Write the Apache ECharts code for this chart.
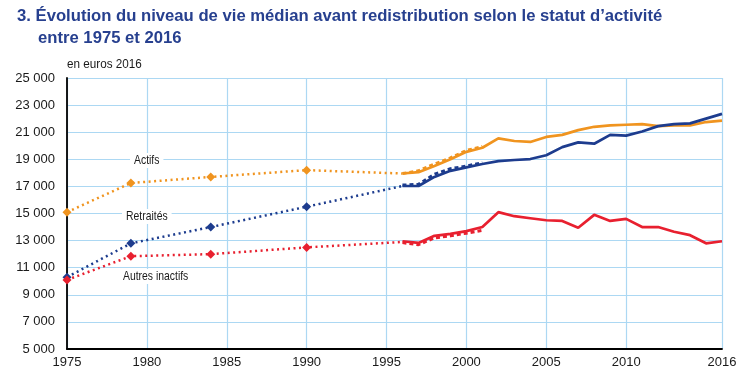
<!DOCTYPE html>
<html>
<head>
<meta charset="utf-8">
<script src="https://cdn.jsdelivr.net/npm/echarts@6/dist/echarts.min.js"></script>
<style>
  html, body { margin: 0; padding: 0; background: #fff; }
  #chart { width: 742px; height: 376px; }
</style>
</head>
<body>
<div id="chart"></div>
<script>
// années des points d'enquête anciens (pointillés)
const oldYears = [1975, 1979, 1984, 1990, 1996]
const actifsOld = [15100, 17250, 17700, 18200, 17950]
const retraitesOld = [10300, 12800, 14000, 15500, 17030]
const inactifsOld = [10100, 11850, 12000, 12500, 12900]

// série rétropolée 1996-2001 (tirets)
const dashYears = [1996, 1997, 1998, 1999, 2000, 2001]
const actifsDash = [17950, 18150, 18650, 19100, 19650, 19950]
const retraitesDash = [17100, 17150, 17900, 18300, 18500, 18750]
const inactifsDash = [12850, 12700, 13200, 13350, 13550, 13750]

// série annuelle 1996-2016 (trait plein)
const years = [1996, 1997, 1998, 1999, 2000, 2001, 2002, 2003, 2004, 2005, 2006,
  2007, 2008, 2009, 2010, 2011, 2012, 2013, 2014, 2015, 2016]
const actifs = [17950, 18050, 18500, 19000, 19550, 19850, 20550, 20350, 20280, 20650, 20800,
  21150, 21400, 21500, 21550, 21600, 21450, 21500, 21500, 21750, 21850]
const retraites = [17030, 17030, 17700, 18150, 18400, 18650, 18870, 18950, 19020, 19300, 19900,
  20250, 20150, 20800, 20750, 21050, 21450, 21600, 21650, 22000, 22350]
const inactifs = [12950, 12830, 13350, 13500, 13700, 14000, 15100, 14800, 14650, 14500, 14450,
  13950, 14900, 14450, 14600, 14000, 14000, 13650, 13400, 12800, 12950]

const xTicks = [1975, 1980, 1985, 1990, 1995, 2000, 2005, 2010, 2016]

const ORANGE = '#f0941f'
const BLUE = '#1d3c8e'
const RED = '#e8202f'
const TITLE = '#27408f'
const FONT = '"Liberation Sans", Arial, sans-serif'

const pair = (xs, ys) => xs.map((x, i) => [x, ys[i]])

const dotted = (data, color) => ({
  type: 'line',
  data: data,
  // pas de losange au raccord de 1996
  symbol: v => (v[0] === 1996 ? 'none' : 'diamond'),
  symbolSize: 9,
  itemStyle: { color: color },
  lineStyle: { color: color, width: 2.5, type: [2, 3.5] },
  z: 3
})
const dashed = (data, color) => ({
  type: 'line',
  data: data,
  symbol: 'none',
  lineStyle: { color: color, width: 3, type: [4, 3] },
  z: 4
})
const solid = (data, color) => ({
  type: 'line',
  data: data,
  symbol: 'none',
  lineStyle: { color: color, width: 2.7 },
  z: 5
})

// texte un peu resserré (la police d'origine est étroite)
const narrowText = (text, x, y, size, opts) => Object.assign({
  type: 'text',
  x: x, y: y, scaleX: opts.scale, z: 10,
  style: Object.assign({
    text: text,
    font: (opts.bold ? 'bold ' : '') + size + 'px ' + FONT,
    fill: opts.color || '#1a1a1a',
    verticalAlign: 'top'
  }, opts.style || {})
})

const chart = echarts.init(document.getElementById('chart'))

const fmt = v => String(v).replace(/\B(?=(\d{3})+(?!\d))/g, ' ')

chart.setOption({
  animation: false,
  grid: { left: 67, right: 20, top: 78, bottom: 27 },
  xAxis: {
    type: 'value',
    min: 1975,
    max: 2016,
    axisLine: { show: true, lineStyle: { color: '#000', width: 1.8 } },
    axisTick: { show: false, customValues: xTicks },
    axisLabel: {
      customValues: xTicks,
      formatter: v => String(v),
      fontFamily: FONT, fontSize: 13, color: '#1a1a1a', margin: 7
    },
    splitLine: { show: true, lineStyle: { color: '#acd8f3', width: 1.2 } }
  },
  yAxis: {
    type: 'value',
    min: 5000,
    max: 25000,
    interval: 2000,
    axisLine: { show: true, lineStyle: { color: '#000', width: 1.8 } },
    axisTick: { show: false },
    axisLabel: {
      formatter: v => fmt(v),
      fontFamily: FONT, fontSize: 13, color: '#1a1a1a', margin: 12
    },
    splitLine: { show: true, lineStyle: { color: '#acd8f3', width: 1.2 } }
  },
  graphic: [
    narrowText('3. Évolution du niveau de vie médian avant redistribution selon le statut d’activité',
      17, 8, 17, { bold: true, scale: 0.98, color: TITLE }),
    narrowText('entre 1975 et 2016', 38, 30, 17, { bold: true, scale: 0.98, color: TITLE }),
    narrowText('en euros 2016', 67, 58, 13, { scale: 0.9 }),
    narrowText('Actifs', 130, 153, 13, { scale: 0.8, style: { backgroundColor: '#fff', padding: [1, 5] } }),
    narrowText('Retraités', 122, 209, 13, { scale: 0.8, style: { backgroundColor: '#fff', padding: [1, 5] } }),
    narrowText('Autres inactifs', 119, 269, 13, { scale: 0.8, style: { backgroundColor: '#fff', padding: [1, 5] } })
  ],
  series: [
    dotted(pair(oldYears, actifsOld), ORANGE),
    dotted(pair(oldYears, retraitesOld), BLUE),
    dotted(pair(oldYears, inactifsOld), RED),
    dashed(pair(dashYears, actifsDash), ORANGE),
    dashed(pair(dashYears, retraitesDash), BLUE),
    dashed(pair(dashYears, inactifsDash), RED),
    solid(pair(years, actifs), ORANGE),
    solid(pair(years, retraites), BLUE),
    solid(pair(years, inactifs), RED)
  ]
})
</script>
</body>
</html>
